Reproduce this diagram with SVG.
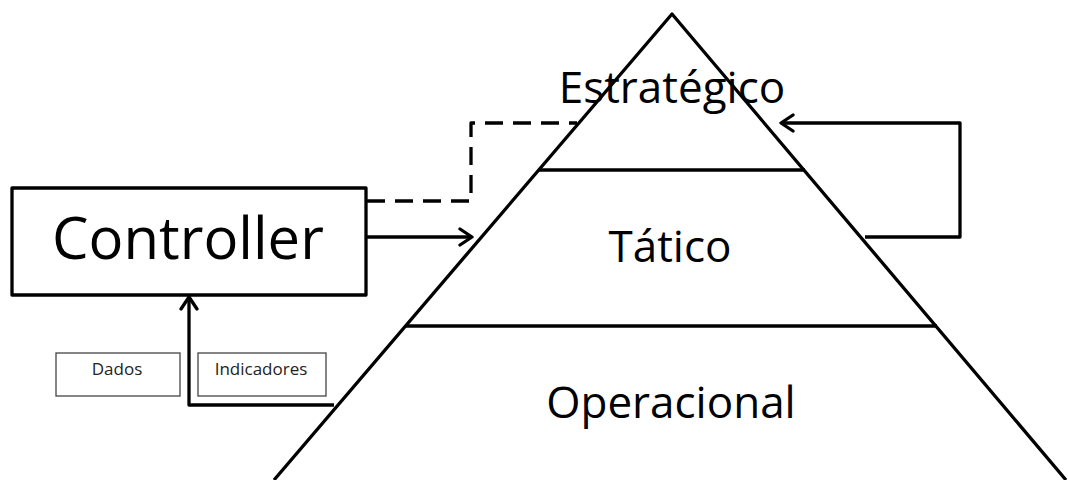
<svg xmlns="http://www.w3.org/2000/svg" width="1068" height="480" viewBox="0 0 1068 480">
<style>
.ln{fill:none;stroke:#000;stroke-width:3.3;stroke-linejoin:round;stroke-linecap:butt}
.big{font-family:"Open Sans","Liberation Sans",sans-serif;font-size:44px;fill:#000;text-anchor:middle}
.ctl{font-family:"Open Sans","Liberation Sans",sans-serif;font-size:58px;fill:#000;text-anchor:middle}
.lbl{font-family:"Open Sans","Liberation Sans",sans-serif;font-size:17px;fill:#222;text-anchor:middle}
.lbox{fill:#fff;stroke:#444;stroke-width:1.3}
</style>
<defs>
<marker id="arr" viewBox="0 0 20 20" refX="18" refY="10" markerWidth="20" markerHeight="20" markerUnits="userSpaceOnUse" orient="auto">
<path d="M6,2 L18,10 L6,18" fill="none" stroke="#000" stroke-width="3.3" stroke-linecap="round" stroke-linejoin="round"/>
</marker>
</defs>
<rect width="1068" height="480" fill="#fff"/>
<g id="pyramid">
<path class="ln" d="M274,480 L672,14 L1066,480"/>
<line class="ln" x1="539" y1="170" x2="805" y2="170"/>
<line class="ln" x1="406" y1="326" x2="937" y2="326"/>
</g>
<g id="estrategico"><text class="big" x="672" y="103">Estratégico</text></g>
<g id="tatico"><text class="big" x="670" y="262">Tático</text></g>
<g id="operacional"><text class="big" x="671" y="418">Operacional</text></g>
<g id="controller">
<rect class="ln" x="12" y="188" width="354" height="107"/>
<text class="ctl" x="188" y="259">Controller</text>
</g>
<g id="dados">
<rect class="lbox" x="56" y="353" width="124" height="43"/>
<text class="lbl" x="117" y="375">Dados</text>
</g>
<g id="indicadores">
<rect class="lbox" x="198" y="353" width="128" height="43"/>
<text class="lbl" x="261" y="375">Indicadores</text>
</g>
<g id="connectors">
<path class="ln" d="M367,201 L471,201 L471,123 L577,123" stroke-dasharray="18 10"/>
<path class="ln" d="M367,237 L472,237" marker-end="url(#arr)"/>
<path class="ln" d="M865,237 L960,237 L960,123 L781,123" marker-end="url(#arr)"/>
<path class="ln" d="M334,405 L189,405 L189,297" marker-end="url(#arr)"/>
</g>
</svg>
